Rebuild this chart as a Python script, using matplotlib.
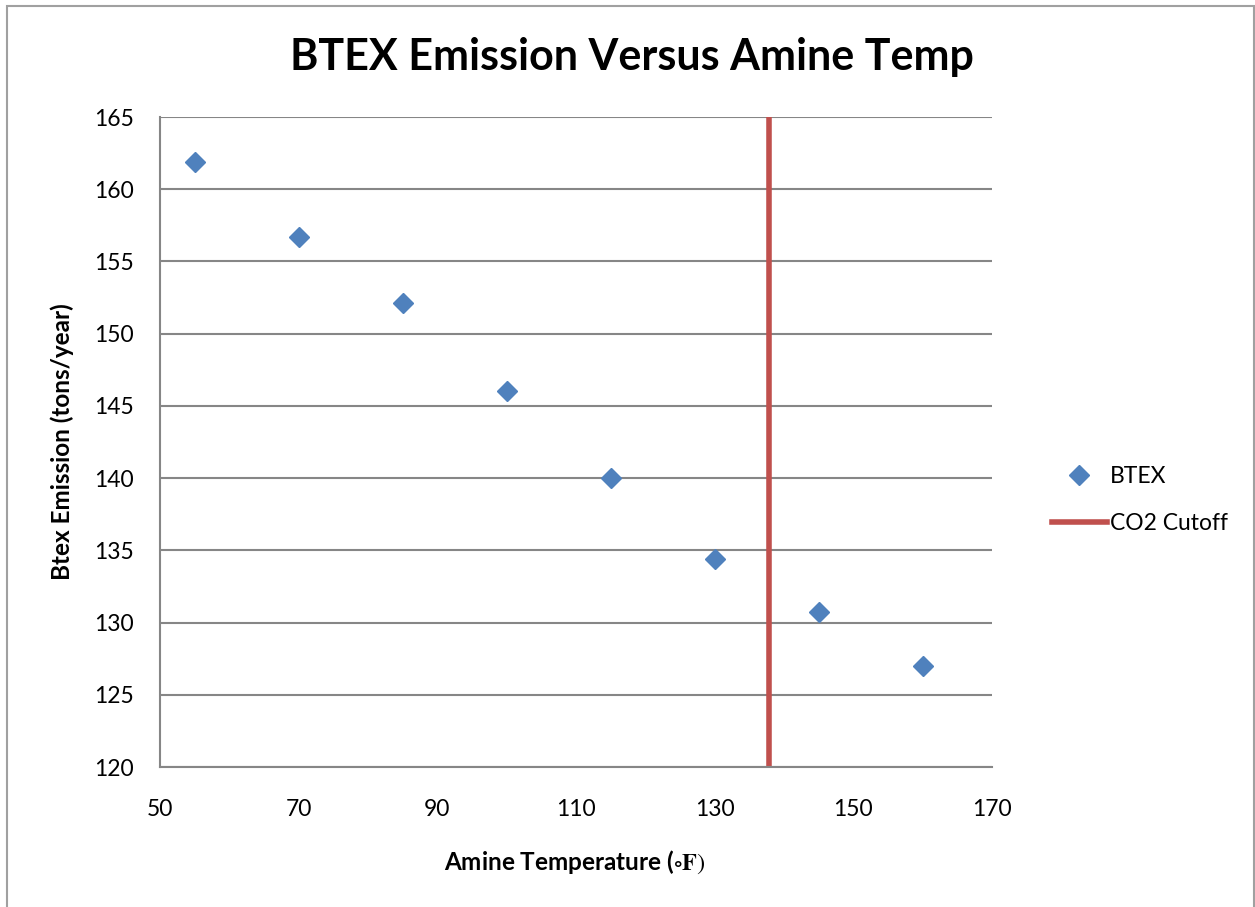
import numpy as np
import matplotlib
matplotlib.use("Agg")
import matplotlib.pyplot as plt
from matplotlib.patches import Rectangle
from matplotlib.lines import Line2D

plt.rcParams['font.family'] = ['Lato', 'DejaVu Sans']
plt.rcParams['mathtext.fontset'] = 'stix'

# Données : température de l'amine (°F) et émissions BTEX (tons/an)
temperature = [55, 70, 85, 100, 115, 130, 145, 160]
btex = [161.9, 156.7, 152.1, 146.0, 140.0, 134.4, 130.7, 127.0]
co2_cutoff = 137.8

x_ticks = [50, 70, 90, 110, 130, 150, 170]
y_ticks = [120, 125, 130, 135, 140, 145, 150, 155, 160, 165]

bleu = '#4F81BD'
rouge = '#C0504D'
gris = '#868686'

fig = plt.figure(figsize=(12.55, 9.07), dpi=100)
ax = fig.add_axes([160 / 1255, 1 - 767 / 907, (992 - 160) / 1255, (767 - 117) / 907])

# Cadre extérieur du graphique
fig.patches.append(Rectangle((7 / 1255, -0.02), 1247 / 1255, 1.02 - 6 / 907,
                             transform=fig.transFigure, fill=False,
                             edgecolor='#A0A0A0', linewidth=1.5))

ax.plot(temperature, btex, linestyle='none', marker='D', markersize=10.5,
        color=bleu, zorder=3)
ax.plot([co2_cutoff, co2_cutoff], [120, 165], color=rouge, linewidth=4,
        solid_capstyle='butt', clip_on=False, zorder=2)

ax.set_xlim(50, 170)
ax.set_ylim(120, 165)
ax.set_xticks(x_ticks)
ax.set_yticks(y_ticks)
ax.tick_params(axis='both', length=0, labelsize=16.5)
ax.tick_params(axis='y', pad=19)
ax.tick_params(axis='x', pad=23)
ax.yaxis.grid(True, color=gris, linewidth=1.5)
ax.set_axisbelow(True)
for s in ['top', 'right']:
    ax.spines[s].set_visible(False)
for s in ['left', 'bottom']:
    ax.spines[s].set_color(gris)
    ax.spines[s].set_linewidth(1.5)

fig.text(632 / 1255, 1 - 57 / 907, 'BTEX Emission Versus Amine Temp',
         ha='center', va='center', fontsize=31, fontweight='bold')
fig.text(575 / 1255, 1 - 862 / 907,
         r'Amine Temperature ($\circ\mathbf{F})$',
         ha='center', va='center', fontsize=17.5, fontweight='bold')
fig.text(62 / 1255, 1 - 442 / 907, 'Btex Emission (tons/year)',
         ha='center', va='center', rotation=90, fontsize=17.5, fontweight='bold')

handles = [
    Line2D([], [], linestyle='none', marker='D', markersize=10.5, color=bleu),
    Line2D([], [], color=rouge, linewidth=4),
]
fig.legend(handles, ['BTEX', 'CO2 Cutoff'], loc='center left',
           bbox_to_anchor=(1031 / 1255, 1 - 500 / 907), frameon=False,
           fontsize=16.5, handlelength=2.4, handletextpad=0.15, labelspacing=1.15)

fig.savefig('out.png', dpi=100)
